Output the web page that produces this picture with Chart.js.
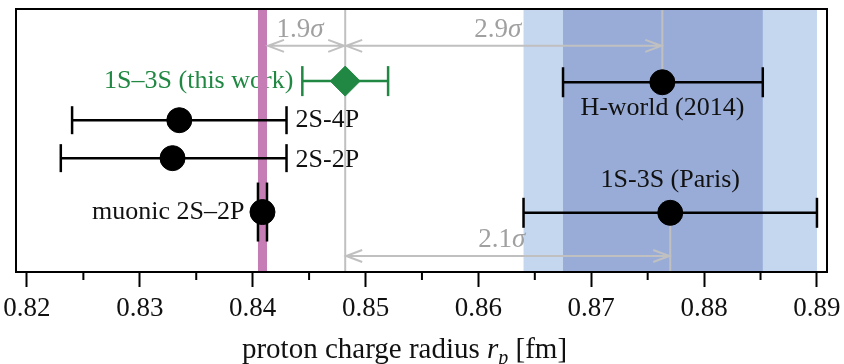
<!DOCTYPE html>
<html>
<head>
<meta charset="utf-8">
<script src="https://cdn.jsdelivr.net/npm/chart.js@4.4.1/dist/chart.umd.min.js"></script>
<style>
  html, body { margin: 0; padding: 0; background: #fff; }
  #wrap { width: 844px; height: 364px; }
</style>
</head>
<body>
<div id="wrap"><canvas id="radiusChart"></canvas></div>
<script>
// measurements of the proton charge radius (fm)
const names = ['1S–3S (this work)', '2S-4P', '2S-2P', 'muonic 2S–2P', 'H-world (2014)', '1S-3S (Paris)'];
const radius = [0.8482, 0.8335, 0.8329, 0.84087, 0.8763, 0.8770];
const lowErr = [0.8444, 0.8240, 0.8230, 0.84047, 0.8675, 0.8640];
const highErr = [0.8520, 0.8430, 0.8430, 0.84127, 0.8852, 0.8900];
const rowPos = [0, 1.03, 2.03, 3.45, 0.03, 3.47];

// tension arrows between results
const sigmaText = ['1.9σ', '2.9σ', '2.1σ'];
const sigmaFrom = [0.84127, 0.8482, 0.8482];
const sigmaTo = [0.8482, 0.8763, 0.8770];
const sigmaRow = [-0.93, -0.93, 4.61];

const xTicks = [0.82, 0.83, 0.84, 0.85, 0.86, 0.87, 0.88, 0.89];

const green = '#218843';
const gray = '#c0c0c0';
const serif = '"Liberation Serif", "DejaVu Serif", serif';
const capHalf = [15, 14, 14, 29.5, 15, 15];

// one line dataset per error bar, caps drawn as rotated 'line' points
const errorSets = names.map((n, i) => ({
    label: n,
    data: [{ x: lowErr[i], y: rowPos[i] }, { x: highErr[i], y: rowPos[i] }],
    showLine: true,
    borderColor: i === 0 ? green : '#000',
    borderWidth: 2.5,
    pointStyle: 'line',
    pointRotation: 90,
    pointRadius: capHalf[i],
    pointBorderColor: i === 0 ? green : '#000',
    pointBorderWidth: 2.5,
    order: 3
}));

const dots = {
    label: 'dots',
    data: [1, 2, 3, 4, 5].map(i => ({ x: radius[i], y: rowPos[i] })),
    pointStyle: 'circle',
    pointRadius: 12.5,
    pointBorderWidth: 1,
    backgroundColor: '#000',
    borderColor: '#000',
    order: 1
};

const diamond = {
    label: 'this work',
    data: [{ x: radius[0], y: rowPos[0] }],
    pointStyle: 'rectRot',
    pointRadius: 15,
    pointBorderWidth: 1,
    backgroundColor: green,
    borderColor: green,
    order: 1
};

// bands, labels, guide lines and arrows drawn through the scales
const decor = {
    id: 'decor',
    beforeDatasetsDraw(chart) {
        const { ctx, chartArea: a, scales: { x, y } } = chart;
        const band = (lo, hi, color) => {
            ctx.fillStyle = color;
            ctx.fillRect(x.getPixelForValue(lo), a.top, x.getPixelForValue(hi) - x.getPixelForValue(lo), a.bottom - a.top);
        };
        ctx.save();
        band(lowErr[5], highErr[5], '#c4d7ef');
        band(lowErr[4], highErr[4], '#99acd8');

        // data labels
        ctx.font = '26px ' + serif;
        ctx.textBaseline = 'middle';
        ctx.fillStyle = green;
        ctx.textAlign = 'right';
        ctx.fillText(names[0], x.getPixelForValue(lowErr[0]) - 9, y.getPixelForValue(rowPos[0]));
        ctx.fillStyle = '#111';
        ctx.textAlign = 'left';
        ctx.fillText(names[1], x.getPixelForValue(highErr[1]) + 9, y.getPixelForValue(rowPos[1]));
        ctx.fillText(names[2], x.getPixelForValue(highErr[2]) + 9, y.getPixelForValue(rowPos[2]) + 2);
        ctx.textAlign = 'right';
        ctx.fillText(names[3], x.getPixelForValue(radius[3]) - 18, y.getPixelForValue(rowPos[3]));
        ctx.textAlign = 'center';
        ctx.fillText(names[4], x.getPixelForValue(radius[4]), y.getPixelForValue(rowPos[4]) + 26);
        ctx.fillText(names[5], x.getPixelForValue(radius[5]), y.getPixelForValue(rowPos[5]) - 33);

        band(lowErr[3], highErr[3], '#c67db6');

        // gray guide lines
        ctx.strokeStyle = gray;
        ctx.lineWidth = 2;
        const vline = (v, y1, y2) => {
            const px = x.getPixelForValue(v);
            ctx.beginPath();
            ctx.moveTo(px, y1);
            ctx.lineTo(px, y2);
            ctx.stroke();
        };
        vline(radius[0], a.top, a.bottom);
        vline(radius[4], a.top, y.getPixelForValue(rowPos[4]));
        vline(radius[5], y.getPixelForValue(rowPos[5]), a.bottom);

        // double-headed arrows with sigma labels
        sigmaText.forEach((t, i) => {
            const x1 = x.getPixelForValue(sigmaFrom[i]);
            const x2 = x.getPixelForValue(sigmaTo[i]);
            const yy = y.getPixelForValue(sigmaRow[i]);
            ctx.strokeStyle = gray;
            ctx.lineWidth = 2;
            ctx.beginPath();
            ctx.moveTo(x1, yy);
            ctx.lineTo(x2, yy);
            ctx.moveTo(x1 + 17, yy - 6);
            ctx.lineTo(x1 + 1, yy);
            ctx.lineTo(x1 + 17, yy + 6);
            ctx.moveTo(x2 - 17, yy - 6);
            ctx.lineTo(x2 - 1, yy);
            ctx.lineTo(x2 - 17, yy + 6);
            ctx.stroke();

            const num = t.slice(0, -1);
            ctx.font = '27px ' + serif;
            const w1 = ctx.measureText(num).width;
            ctx.font = 'italic 27px ' + serif;
            const w2 = ctx.measureText('σ').width;
            const left = (x1 + x2) / 2 - 6 - (w1 + w2) / 2;
            ctx.fillStyle = '#a0a0a0';
            ctx.textAlign = 'left';
            ctx.textBaseline = 'alphabetic';
            ctx.font = '27px ' + serif;
            ctx.fillText(num, left, yy - 9);
            ctx.font = 'italic 27px ' + serif;
            ctx.fillText('σ', left + w1, yy - 9);
        });
        ctx.restore();
    },
    afterDraw(chart) {
        const { ctx, chartArea: a, scales: { x } } = chart;
        ctx.save();
        // frame
        ctx.strokeStyle = '#000';
        ctx.lineWidth = 2;
        ctx.strokeRect(a.left, a.top, a.right - a.left, a.bottom - a.top);

        // minor ticks halfway between labelled ticks
        ctx.beginPath();
        for (let i = 0; i < xTicks.length - 1; i++) {
            const px = x.getPixelForValue((xTicks[i] + xTicks[i + 1]) / 2);
            ctx.moveTo(px, a.bottom);
            ctx.lineTo(px, a.bottom + 8);
        }
        ctx.stroke();

        // axis title with subscript
        const base = chart.height - 6;
        const parts = [
            ['proton charge radius ', '29px ' + serif, 0],
            ['r', 'italic 29px ' + serif, 0],
            ['p', 'italic 20px ' + serif, 6],
            [' [fm]', '29px ' + serif, 0]
        ];
        let total = 0;
        parts.forEach(p => { ctx.font = p[1]; total += ctx.measureText(p[0]).width; });
        let cx = (a.left + a.right) / 2 - 17 - total / 2;
        ctx.fillStyle = '#111';
        ctx.textBaseline = 'alphabetic';
        ctx.textAlign = 'left';
        parts.forEach(p => {
            ctx.font = p[1];
            ctx.fillText(p[0], cx, base + p[2]);
            cx += ctx.measureText(p[0]).width;
        });
        ctx.restore();
    }
};

const ctx = document.getElementById('radiusChart').getContext('2d');
const radiusChart = new Chart(ctx, {
    type: 'scatter',
    data: { datasets: [diamond, dots, ...errorSets] },
    options: {
        responsive: true,
        maintainAspectRatio: false,
        animation: false,
        events: [],
        layout: { autoPadding: false, padding: { left: 16, right: 17, top: 9, bottom: 0 } },
        plugins: {
            legend: { display: false },
            tooltip: { enabled: false }
        },
        scales: {
            x: {
                type: 'linear',
                min: 0.81903,
                max: 0.89089,
                afterBuildTicks: s => { s.ticks = xTicks.map(v => ({ value: v })); },
                afterFit: s => {
                    // fixed axis band; tick labels may hang into the side padding
                    s.height = 92;
                    s.paddingLeft = 0;
                    s.paddingRight = 0;
                },
                border: { display: false },
                grid: {
                    drawOnChartArea: false,
                    drawTicks: true,
                    tickLength: 15,
                    tickWidth: 2,
                    tickColor: '#000'
                },
                ticks: {
                    color: '#111',
                    padding: 6,
                    maxRotation: 0,
                    font: { family: serif, size: 27 },
                    callback: v => v.toFixed(2)
                }
            },
            y: {
                type: 'linear',
                display: false,
                reverse: true,
                min: -1.9,
                max: 5.03
            }
        }
    },
    plugins: [decor]
});
</script>
</body>
</html>
